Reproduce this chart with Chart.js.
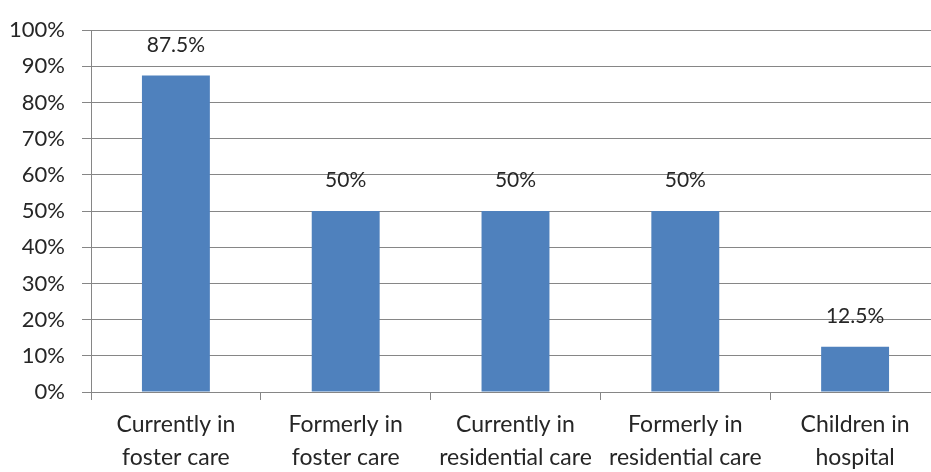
<!DOCTYPE html>
<html>
<head>
<meta charset="utf-8">
<script src="https://cdn.jsdelivr.net/npm/chart.js"></script>
<style>
  html, body { margin: 0; padding: 0; background: #fff; }
  #wrap { width: 931px; height: 472px; overflow: hidden; }
</style>
</head>
<body>
<div id="wrap"><canvas id="chart" width="940" height="472"></canvas></div>
<script>
// Datos del gráfico
const categories = [
  ['Currently in', 'foster care'],
  ['Formerly in', 'foster care'],
  ['Currently in', 'residential care'],
  ['Formerly in', 'residential care'],
  ['Children in', 'hospital']
];
const values = [87.5, 50, 50, 50, 12.5];
const valueLabels = ['87.5%', '50%', '50%', '50%', '12.5%'];
const yTicks = [0, 10, 20, 30, 40, 50, 60, 70, 80, 90, 100];

const textColor = '#262626';
const gridColor = '#868686';
const fontFamily = 'Lato, "Open Sans", sans-serif';

// Etiquetas sobre las barras
const barLabels = {
  id: 'barLabels',
  afterDatasetsDraw(chart) {
    const ctx = chart.ctx;
    const meta = chart.getDatasetMeta(0);
    ctx.save();
    ctx.fillStyle = textColor;
    ctx.font = '21px ' + fontFamily;
    ctx.textAlign = 'center';
    ctx.textBaseline = 'bottom';
    meta.data.forEach((bar, i) => {
      ctx.fillText(valueLabels[i], bar.x, bar.y - 20);
    });
    ctx.restore();
  }
};

new Chart(document.getElementById('chart'), {
  type: 'bar',
  data: {
    labels: categories,
    datasets: [{
      data: values,
      backgroundColor: '#4F81BD',
      borderWidth: 0,
      categoryPercentage: 0.4,
      barPercentage: 1
    }]
  },
  options: {
    responsive: false,
    animation: false,
    layout: { padding: { top: 22, right: 0, left: 0, bottom: 0 } },
    plugins: { legend: { display: false }, tooltip: { enabled: false } },
    scales: {
      x: {
        offset: true,
        grid: { offset: true, drawOnChartArea: false, color: gridColor, tickLength: 8 },
        border: { color: gridColor },
        ticks: {
          color: textColor,
          font: { family: fontFamily, size: 23, lineHeight: 1.45 },
          padding: 8,
          maxRotation: 0,
          autoSkip: false
        },
        afterFit(scale) { scale.height = 80; }
      },
      y: {
        min: 0,
        max: 100,
        afterBuildTicks(scale) { scale.ticks = yTicks.map(v => ({ value: v })); },
        grid: { color: gridColor, tickLength: 9 },
        border: { color: gridColor },
        ticks: {
          color: textColor,
          font: { family: fontFamily, size: 22 },
          padding: 17,
          callback: v => v + '%'
        },
        afterFit(scale) { scale.width = 91; }
      }
    }
  },
  plugins: [barLabels]
});
</script>
</body>
</html>
